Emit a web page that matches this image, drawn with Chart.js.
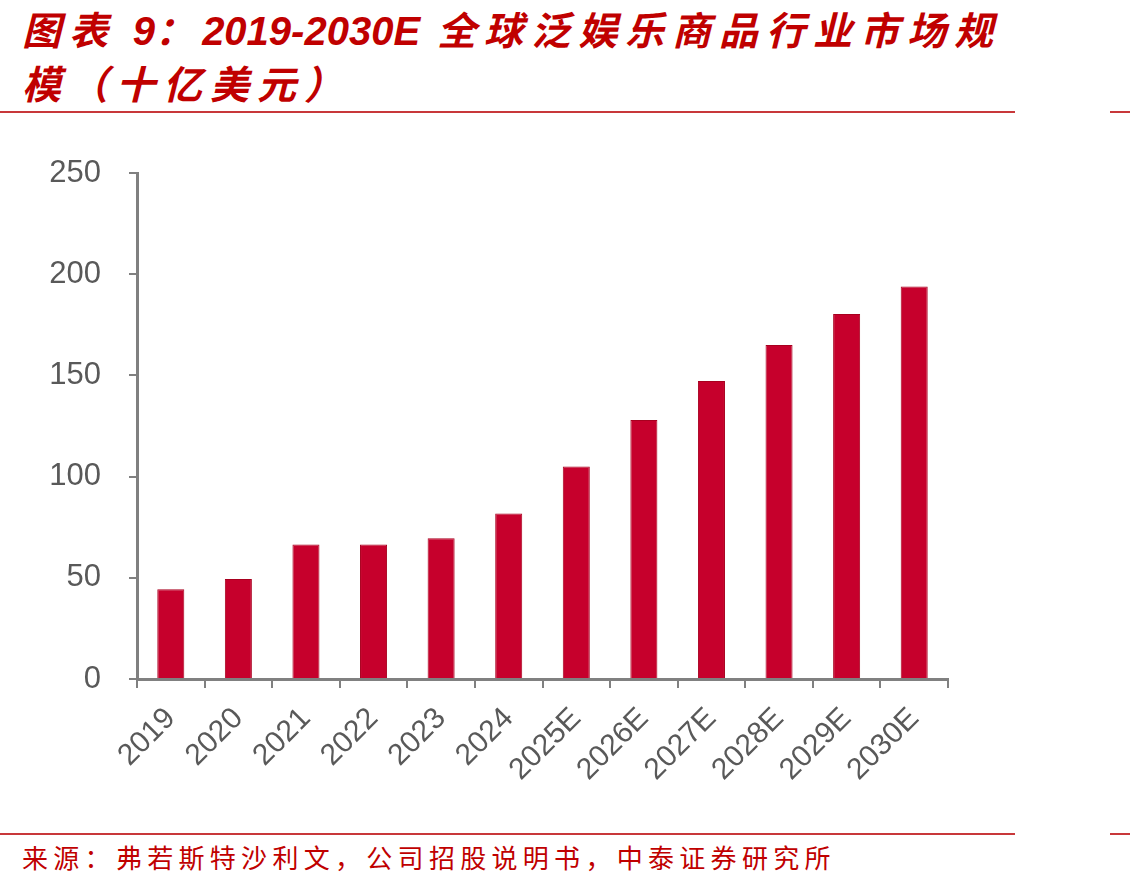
<!DOCTYPE html>
<html>
<head>
<meta charset="utf-8">
<script src="https://cdn.jsdelivr.net/npm/chart.js@4"></script>
<style>
  html, body { margin: 0; padding: 0; background: #fff; }
  body { width: 1130px; height: 887px; position: relative; overflow: hidden; }
  .title {
    position: absolute; left: 22px; top: 3px; width: 1080px;
    font-family: "Noto Sans CJK SC", sans-serif;
    font-weight: bold; font-style: italic; color: #C00000;
    font-size: 39px; line-height: 51px; letter-spacing: 8px;
  }
  .title .num { font-family: "Liberation Sans", sans-serif; letter-spacing: 0; font-size: 40px; }
  .rule { position: absolute; height: 2px; background: #C8383A; }
  .source {
    position: absolute; left: 22px; top: 838px;
    font-family: "Noto Sans CJK SC", sans-serif; color: #C00000;
    font-size: 26px; letter-spacing: 5.3px;
  }
  #wrap { position: absolute; left: 0; top: 120px; width: 1130px; height: 700px; }
</style>
</head>
<body>
<div class="title">图表 <span class="num">9</span>：<span class="num">2019-2030E</span> 全球泛娱乐商品行业市场规<br>模（十亿美元）</div>
<div class="rule" style="left:0;top:111px;width:1015px"></div>
<div class="rule" style="left:1110px;top:111px;width:20px"></div>
<div id="wrap"><canvas id="myChart"></canvas></div>
<div class="rule" style="left:0;top:833px;width:1015px"></div>
<div class="rule" style="left:1110px;top:833px;width:20px"></div>
<div class="source">来源：弗若斯特沙利文，公司招股说明书，中泰证券研究所</div>
<script>
// categories and values (billion USD)
const years = ['2019', '2020', '2021', '2022', '2023', '2024', '2025E', '2026E', '2027E', '2028E', '2029E', '2030E'];
const marketSize = [44.4, 49.4, 66.5, 66.5, 69.5, 81.8, 105, 128, 147.2, 165, 180.3, 193.9];
const yTicks = [0, 50, 100, 150, 200, 250];

const axisGray = '#808080';
const labelGray = '#595959';

const ctx = document.getElementById('myChart').getContext('2d');
new Chart(ctx, {
  type: 'bar',
  data: {
    labels: years,
    datasets: [{
      label: '全球泛娱乐商品行业市场规模',
      data: marketSize,
      backgroundColor: '#C6002C',
      borderColor: '#A8001F',
      borderWidth: 1,
      barPercentage: 0.4,
      categoryPercentage: 1.0
    }]
  },
  options: {
    responsive: true,
    maintainAspectRatio: false,
    animation: false,
    layout: { padding: { top: 53, right: 182, bottom: 0, left: 0 } },
    plugins: { legend: { display: false }, tooltip: { enabled: false } },
    scales: {
      x: {
        offset: true,
        grid: { display: true, offset: true, drawOnChartArea: false, drawTicks: true, tickLength: 9, color: axisGray, lineWidth: 2 },
        border: { display: true, color: axisGray, width: 3 },
        ticks: {
          color: labelGray, font: { family: 'Liberation Sans', size: 30 },
          minRotation: 45, maxRotation: 45, padding: 13
        },
        afterFit: function (scale) { scale.height = 141; }
      },
      y: {
        min: 0, max: 250,
        afterBuildTicks: function (scale) { scale.ticks = yTicks.map(v => ({ value: v })); },
        grid: { display: true, drawOnChartArea: false, drawTicks: true, tickLength: 8, color: axisGray, lineWidth: 2 },
        border: { display: true, color: axisGray, width: 3 },
        ticks: { color: labelGray, font: { family: 'Liberation Sans', size: 31 }, padding: 28 },
        afterFit: function (scale) { scale.width = 137; }
      }
    }
  }
});
</script>
</body>
</html>
